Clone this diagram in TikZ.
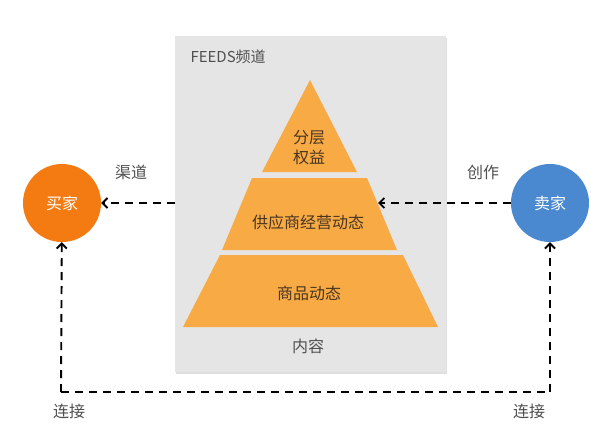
\documentclass[tikz,border=0pt]{standalone}
\usepackage{fontspec}
\setmainfont{Noto Sans CJK SC}
\usetikzlibrary{
    arrows.meta,
    calc,
    positioning,
    shadows,
}
\definecolor{panelgrey}{HTML}{E6E5E6}
\definecolor{layerorange}{HTML}{F8AB45}
\definecolor{buyerorange}{HTML}{F47B12}
\definecolor{sellerblue}{HTML}{4A88CF}
\definecolor{textbrown}{HTML}{4A3520}
\definecolor{labelgrey}{HTML}{505050}

\begin{document}
\begin{tikzpicture}[
        x=1pt, y=-1pt,
        font=\fontsize{16}{20}\selectfont,
        panel/.style={fill=panelgrey, draw=none, drop shadow={shadow xshift=1pt, shadow yshift=-2pt, opacity=0.25}},
        layer/.style={fill=layerorange, draw=none},
        layertext/.style={text=textbrown, align=center},
        party/.style={circle, minimum size=78pt, inner sep=0pt, text=white},
        flow/.style={dashed, dash pattern=on 8pt off 6pt, line width=1.9pt, -{Straight Barb[length=5pt, width=10pt, line width=1.9pt]}},
        lbl/.style={text=labelgrey}
        ]
        \useasboundingbox[fill=white] (0,0) rectangle (591,433);
        % FEEDS panel
        \node[panel, minimum width=271pt, minimum height=336pt, inner sep=0pt] (FEEDS) at (310.5,204) {};
        \node[lbl, anchor=west, font=\fontsize{15}{18}\selectfont] (TITLE) at (187,57) {FEEDS频道};
        \node[lbl] (CONTENT) at (308,346) {内容};
        % pyramid layers
        \fill[layer] (310,80) -- (357,172) -- (262,172) -- cycle;
        \fill[layer] (252,178) -- (367,178) -- (397,250) -- (222,250) -- cycle;
        \fill[layer] (220,255) -- (403,255) -- (438,327) -- (183,327) -- cycle;
        \node[layertext, font=\fontsize{16}{20}\selectfont] (RIGHTS) at (309,148) {分层\\权益};
        \node[layertext] (SUPPLY) at (308,222) {供应商经营动态};
        \node[layertext] (GOODS)  at (309,293) {商品动态};
        \coordinate (SUPPLYR) at (378,203);
        % buyer and seller
        \node[party, fill=buyerorange] (BUYER)  at (62,203)  {买家};
        \node[party, fill=sellerblue]  (SELLER) at (550,203) {卖家};
        \draw[flow] (FEEDS.west |- BUYER) -- (BUYER);
        \draw[flow] (SELLER) -- (SUPPLYR);
        \node[lbl] (CHANNEL) at (131,172) {渠道};
        \node[lbl] (CREATE)  at (483,172) {创作};
        % connection loop
        \coordinate (BL) at (61,392);
        \coordinate (BR) at (550,392);
        \draw[flow] (BR) -- (SELLER);
        \draw[dashed, dash pattern=on 8pt off 6pt, line width=1.9pt] (BL) -- (BR);
        \draw[flow] (BL) -- (BUYER);
        \node[lbl] (LINKL) at (69,411) {连接};
        \node[lbl] (LINKR) at (529,411) {连接};
    \end{tikzpicture}
\end{document}
